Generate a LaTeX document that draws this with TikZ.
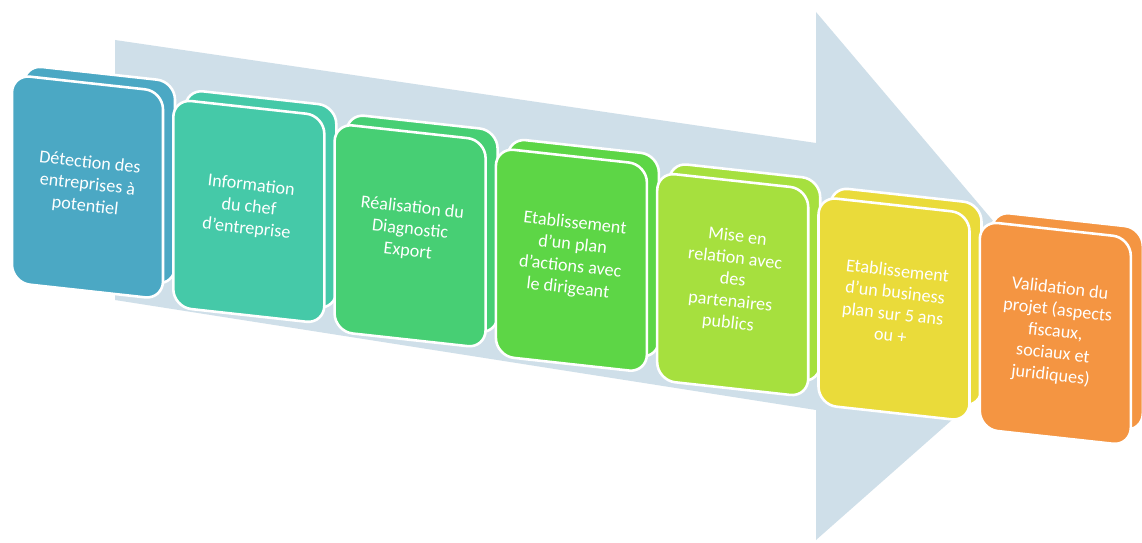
\documentclass[tikz,border=0pt]{standalone}
\usepackage{xcolor}
\usepackage{tikz}
\usepackage{fontspec}
\setmainfont{Carlito}
\definecolor{arrowblue}{RGB}{207, 223, 233}
\definecolor{stepblue}{RGB}{75, 168, 196}
\definecolor{stepteal}{RGB}{69, 201, 168}
\definecolor{stepgreen}{RGB}{71, 207, 116}
\definecolor{steplime}{RGB}{93, 214, 70}
\definecolor{steplight}{RGB}{166, 224, 62}
\definecolor{stepyellow}{RGB}{234, 219, 58}
\definecolor{steporange}{RGB}{244, 149, 66}
\usetikzlibrary{shapes,arrows,positioning,calc}

\begin{document}
\begin{tikzpicture}[
    x=0.03cm, y=-0.03cm,
    bigarrow/.style={fill=arrowblue},
    stage/.style={rectangle, rounded corners=0.54cm, draw=white, line width=2.2pt, yslant=-0.11, minimum width=4.53cm, minimum height=6.24cm},
    stageback/.style={stage, minimum height=6.1cm},
    stagetext/.style={rotate=-6.3, align=center, text=white, inner sep=0pt, font=\fontsize{15.5}{18.6}\selectfont}
]
    \useasboundingbox[fill=white] (0,0) rectangle (1142,543);

    % Arrow
    \fill[bigarrow] (115,40) -- (816,143) -- (816,12) -- (1072,314) -- (816,540) -- (816,410) -- (115,300) -- cycle;

    % Back cards
    \node[stageback, fill=stepblue] (b1) at (99.5,175) {};
    \node[stageback, fill=stepteal] (b2) at (260.8,199.4) {};
    \node[stageback, fill=stepgreen] (b3) at (422.1,223.8) {};
    \node[stageback, fill=steplime] (b4) at (583.4,248.2) {};
    \node[stageback, fill=steplight] (b5) at (744.7,272.6) {};
    \node[stageback, fill=stepyellow] (b6) at (906,297) {};
    \node[stageback, fill=steporange] (b7) at (1067.3,321.4) {};

    % Stages
    \node[stage, fill=stepblue] (s1) at (87.5,187) {};
    \node[stage, fill=stepteal] (s2) at (248.8,211.4) {};
    \node[stage, fill=stepgreen] (s3) at (410.1,235.8) {};
    \node[stage, fill=steplime] (s4) at (571.4,260.2) {};
    \node[stage, fill=steplight] (s5) at (732.7,284.6) {};
    \node[stage, fill=stepyellow] (s6) at (894,309) {};
    \node[stage, fill=steporange] (s7) at (1055.3,333.4) {};

    % Stage texts
    \node[stagetext] (t1) at ($(s1)+(0,-2)$) {
        Détection des\\
        entreprises à\\
        potentiel
    };
    \node[stagetext] (t2) at ($(s2)+(0,-4)$) {
        Information\\
        du chef\\
        d’entreprise
    };
    \node[stagetext] (t3) at ($(s3)+(0,-6)$) {
        Réalisation du\\
        Diagnostic\\
        Export
    };
    \node[stagetext] (t4) at ($(s4)+(0,-4)$) {
        Etablissement\\
        d’un plan\\
        d’actions avec\\
        le dirigeant
    };
    \node[stagetext] (t5) at ($(s5)+(0,-4)$) {
        Mise en\\
        relation avec\\
        des\\
        partenaires\\
        publics
    };
    \node[stagetext] (t6) at ($(s6)+(0,-6)$) {
        Etablissement\\
        d’un business\\
        plan sur 5 ans\\
        ou +
    };
    \node[stagetext] (t7) at ($(s7)+(0,-1)$) {
        Validation du\\
        projet (aspects\\
        fiscaux,\\
        sociaux et\\
        juridiques)
    };
\end{tikzpicture}
\end{document}
